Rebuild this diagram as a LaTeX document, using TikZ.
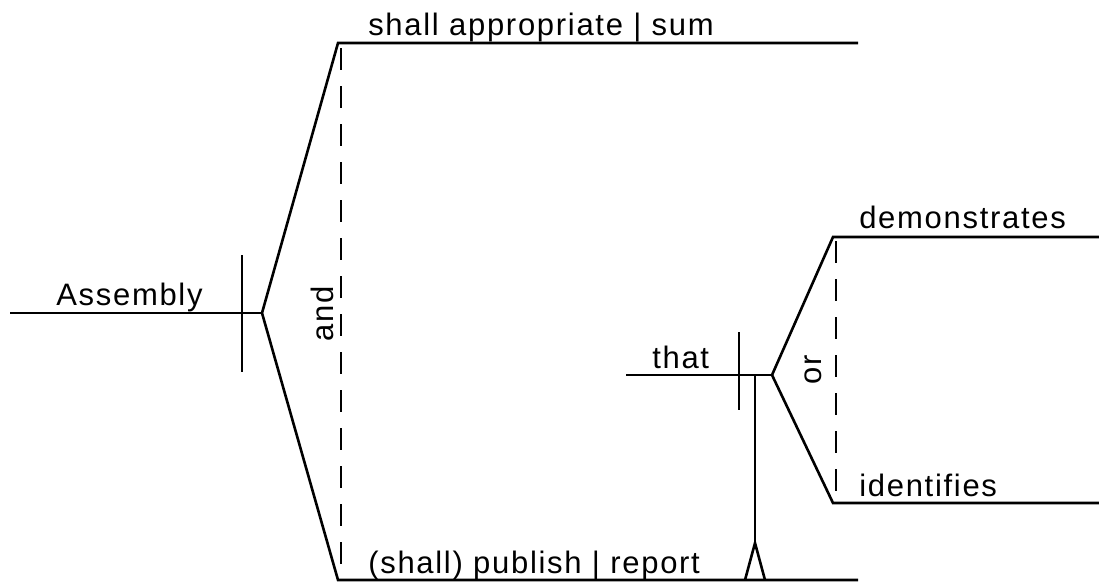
\documentclass[tikz,border=0pt]{standalone}
\usepackage{fontspec}
\setmainfont{Liberation Sans}[LetterSpace=5.5]
\begin{document}
\begin{tikzpicture}[x=1pt,y=-1pt,line width=2.6pt,
  word/.style={anchor=base west,inner sep=0pt,font=\fontsize{31}{36}\selectfont},
  conj/.style={rotate=90,anchor=base,inner sep=0pt,font=\fontsize{31}{36}\selectfont},
  guide/.style={dash pattern=on 22pt off 16pt}]
\useasboundingbox (0,0) rectangle (1099,584);

% main clause: subject and compound predicate
\coordinate (subjL) at (10,313);
\coordinate (fork) at (262,313);
\coordinate (divT) at (242,255);
\coordinate (divB) at (242,372);
\coordinate (p1a) at (338,43);
\coordinate (p1b) at (858,43);
\coordinate (p2a) at (338,580);
\coordinate (p2b) at (858,580);
\coordinate (andT) at (341,48);
\coordinate (andB) at (341,575);

\draw (subjL) -- (fork);
\draw (divT) -- (divB);
\draw (fork) -- (p1a) -- (p1b);
\draw (fork) -- (p2a) -- (p2b);
\draw[guide] (andT) -- (andB);

\node[word] (subj) at (55,305) {Assembly};
\node[word] (pred1) at (367,35) {shall appropriate | sum};
\node[word] (pred2) at (367,573) {(shall) publish | report};
\node[conj] (and) at (333,314) {and};

% relative clause hanging from "report"
\coordinate (thatL) at (626,375);
\coordinate (fork2) at (772,375);
\coordinate (div2T) at (739,332);
\coordinate (div2B) at (739,410);
\coordinate (stemT) at (755,375);
\coordinate (stemB) at (755,543);
\coordinate (footL) at (745,580);
\coordinate (footR) at (765,580);
\coordinate (v1a) at (833,237);
\coordinate (v1b) at (1099,237);
\coordinate (v2a) at (833,503);
\coordinate (v2b) at (1099,503);
\coordinate (orT) at (836,241);
\coordinate (orB) at (836,500);

\draw (thatL) -- (fork2);
\draw (div2T) -- (div2B);
\draw (stemT) -- (stemB);
\draw (footL) -- (stemB) -- (footR);
\draw (fork2) -- (v1a) -- (v1b);
\draw (fork2) -- (v2a) -- (v2b);
\draw[guide] (orT) -- (orB);

\node[word] (that) at (651,368) {that};
\node[word] (verb1) at (858,228) {demonstrates};
\node[word] (verb2) at (858,496) {identifies};
\node[conj] (or) at (821,370) {or};
\end{tikzpicture}
\end{document}
